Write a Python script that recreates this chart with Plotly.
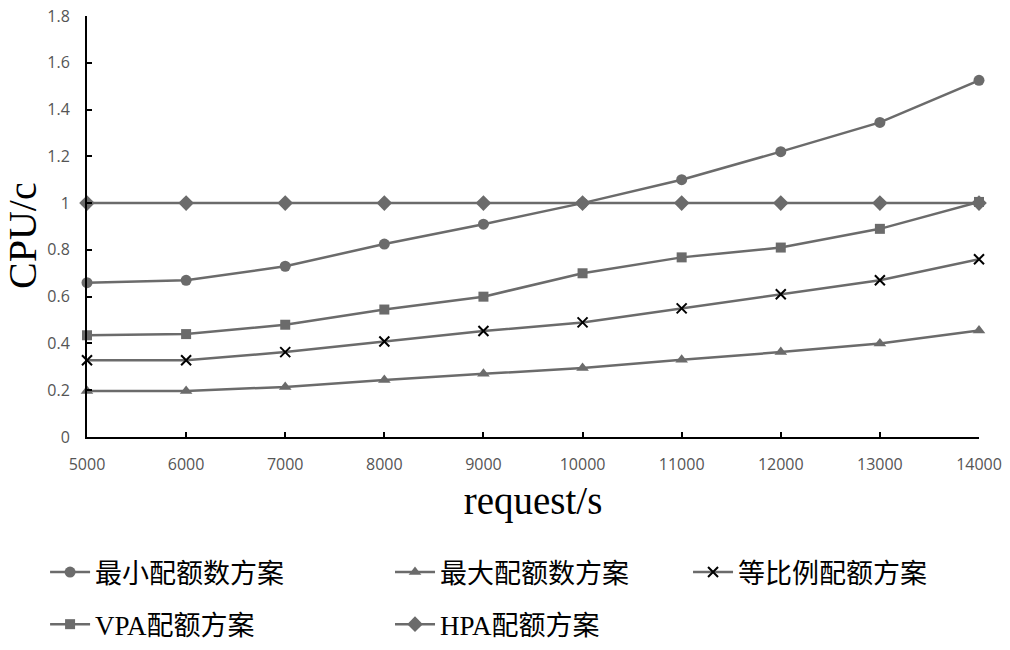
import plotly.graph_objects as go

requests = [5000, 6000, 7000, 8000, 9000, 10000, 11000, 12000, 13000, 14000]
min_quota = [0.66, 0.67, 0.73, 0.825, 0.91, 1.0, 1.10, 1.22, 1.345, 1.525]
max_quota = [0.197, 0.197, 0.214, 0.244, 0.27, 0.295, 0.33, 0.363, 0.40, 0.455]
ratio_quota = [0.328, 0.328, 0.363, 0.408, 0.453, 0.49, 0.55, 0.61, 0.67, 0.76]
vpa_quota = [0.435, 0.44, 0.48, 0.545, 0.60, 0.70, 0.768, 0.81, 0.89, 1.005]
hpa_quota = [1, 1, 1, 1, 1, 1, 1, 1, 1, 1]

series = [
    ("最小配额数方案", min_quota, "circle", 11, "#6b6b6b", None, "legend"),
    ("最大配额数方案", max_quota, "triangle-up", 11, "#6b6b6b", None, "legend2"),
    ("等比例配额方案", ratio_quota, "x-thin", 10, "#000000", 2, "legend3"),
    ("VPA配额方案", vpa_quota, "square", 10, "#6b6b6b", None, "legend"),
    ("HPA配额方案", hpa_quota, "diamond", 12, "#6b6b6b", None, "legend2"),
]

fig = go.Figure()
for i, (name, vals, sym, size, mcol, lw, leg) in enumerate(series):
    marker = dict(symbol=sym, size=size, color=mcol)
    if lw:
        marker["line"] = dict(width=lw, color=mcol)
    fig.add_trace(go.Scatter(
        x=requests, y=vals, name=name, mode="lines+markers",
        line=dict(color="#6b6b6b", width=2.5),
        marker=marker, cliponaxis=False,
        legend=leg, legendgroup=f"g{i}",
    ))

tick_font = dict(family="Open Sans, Liberation Sans, sans-serif", size=16, color="#555555")
title_font = dict(family="Liberation Serif, Times New Roman, serif", size=39, color="#000000")
legend_font = dict(family="Liberation Serif, Noto Sans CJK SC, serif", size=27, color="#000000")

def legend_at(x):
    return dict(
        orientation="v", x=x, xanchor="left", y=-0.2637, yanchor="top",
        font=legend_font, itemwidth=40, tracegroupgap=14,
        bgcolor="rgba(0,0,0,0)",
    )

fig.update_layout(
    width=1010, height=650,
    margin=dict(l=87, r=31, t=16, b=213, autoexpand=False),
    paper_bgcolor="white", plot_bgcolor="white",
    showlegend=True,
    legend=legend_at(-0.047),
    legend2=legend_at(0.3397),
    legend3=legend_at(0.6738),
    xaxis=dict(
        range=[5000, 14000], tickmode="array", tickvals=requests,
        ticktext=[str(v) for v in requests],
        showline=True, linecolor="#000000", linewidth=2,
        ticks="inside", ticklen=5, tickcolor="#000000", tickwidth=1.5,
        showgrid=False, zeroline=False, tickfont=tick_font,
        ticklabelstandoff=12,
        title=dict(text="request/s", font=title_font, standoff=12),
    ),
    yaxis=dict(
        range=[0, 1.8], dtick=0.2, tick0=0,
        showline=True, linecolor="#000000", linewidth=2,
        ticks="inside", ticklen=5, tickcolor="#000000", tickwidth=1.5,
        showgrid=False, zeroline=False, tickfont=tick_font,
        ticklabelstandoff=12,
    ),
    annotations=[dict(
        text="CPU/c", textangle=-90, showarrow=False,
        xref="paper", yref="paper", x=(23 - 87) / 892, y=(437 - 236) / 421,
        xanchor="center", yanchor="middle",
        font=dict(family="Liberation Serif, Times New Roman, serif", size=40, color="#000000"),
    )],
)

fig.write_html("out.html", config={"displayModeBar": False},
               post_script="document.body.style.margin='0';")
